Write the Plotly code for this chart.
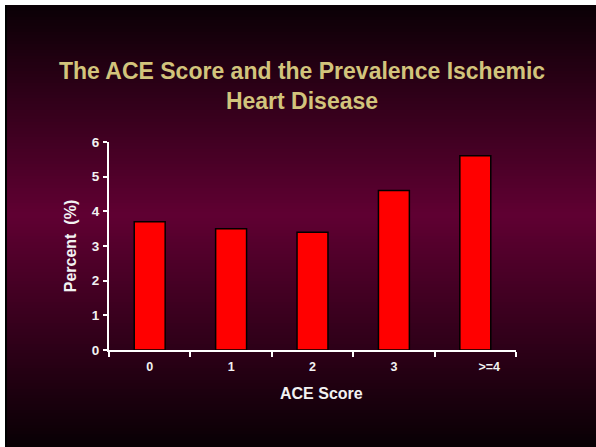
import plotly.graph_objects as go

categories = ["0", "1", "2", "3", ">=4"]
tick_labels = ["0", "1", "2", "3", "\u00a0" * 8 + ">=4"]
percent = [3.7, 3.5, 3.4, 4.6, 5.6]

W, H = 596, 447
L, R, T, B = 109, 80, 142, 97
pw, ph = W - L - R, H - T - B

def px_x(x):
    return (x - L) / pw

def px_y(y):
    return (H - B - y) / ph

def bg_color(y):
    top, mid, bot = (10, 0, 5), (96, 0, 50), (8, 0, 4)
    ym = 215
    if y <= ym:
        f = (y - 5) / (ym - 5)
        a, b = top, mid
    else:
        f = (y - ym) / (H - ym)
        a, b = mid, bot
    f = max(0, min(1, f))
    c = [round(a[i] + (b[i] - a[i]) * f) for i in range(3)]
    return "rgb(%d,%d,%d)" % tuple(c)

shapes = []
step = 3
y = 5
while y < H:
    y2 = min(H, y + step)
    shapes.append(dict(type="rect", xref="paper", yref="paper", layer="below",
                       x0=px_x(5), x1=px_x(W), y0=px_y(y2 + 0.5), y1=px_y(y),
                       fillcolor=bg_color(y + step / 2), line=dict(width=0)))
    y = y2
shapes.append(dict(type="rect", xref="paper", yref="paper", layer="below",
                   x0=px_x(5), x1=px_x(7), y0=px_y(H), y1=px_y(5),
                   fillcolor="black", line=dict(width=0)))

fig = go.Figure(go.Bar(
    x=categories, y=percent, width=0.38,
    marker=dict(color="#ff0000", line=dict(color="black", width=1.5)),
    hoverinfo="skip",
))

fig.update_layout(
    width=W, height=H,
    margin=dict(l=L, r=R, t=T, b=B),
    paper_bgcolor="white",
    plot_bgcolor="rgba(0,0,0,0)",
    shapes=shapes,
    showlegend=False,
    title=dict(
        text="The ACE Score and the Prevalence Ischemic<br>Heart Disease",
        x=302 / W, xanchor="center", xref="container",
        y=1 - 79 / H, yanchor="middle", yref="container",
        font=dict(family="Liberation Sans, Arial", size=23, color="#d2c47c", weight="bold"),
    ),
    annotations=[dict(
        text="ACE Score", xref="paper", yref="paper",
        x=px_x(321), y=px_y(393), xanchor="center", yanchor="middle", showarrow=False,
        font=dict(family="Liberation Sans, Arial", size=16, color="#f2f2f2", weight="bold"),
    )],
    xaxis=dict(
        type="category", range=[-0.5, 4.5],
        tickvals=categories, ticktext=tick_labels,
        tickson="boundaries", ticks="outside", ticklen=5, tickwidth=2, tickcolor="white",
        showline=True, linecolor="white", linewidth=2, showgrid=False, zeroline=False,
        tickfont=dict(family="Liberation Sans, Arial", size=12.5, color="#f2f2f2", weight="bold"),
        ticklabelstandoff=4,
    ),
    yaxis=dict(
        range=[0, 6], tickvals=[0, 1, 2, 3, 4, 5, 6],
        ticks="outside", ticklen=4, tickwidth=2, tickcolor="white",
        showline=True, linecolor="white", linewidth=2, showgrid=False, zeroline=False,
        tickfont=dict(family="Liberation Sans, Arial", size=13.5, color="#f2f2f2", weight="bold"),
        ticklabelstandoff=1,
        title=dict(text="Percent  (%)", standoff=11,
                   font=dict(family="Liberation Sans, Arial", size=16, color="#f2f2f2", weight="bold")),
    ),
)

fig.write_html("out.html", config={"displayModeBar": False},
               post_script="document.body.style.margin='0px';document.body.style.overflow='hidden';")
